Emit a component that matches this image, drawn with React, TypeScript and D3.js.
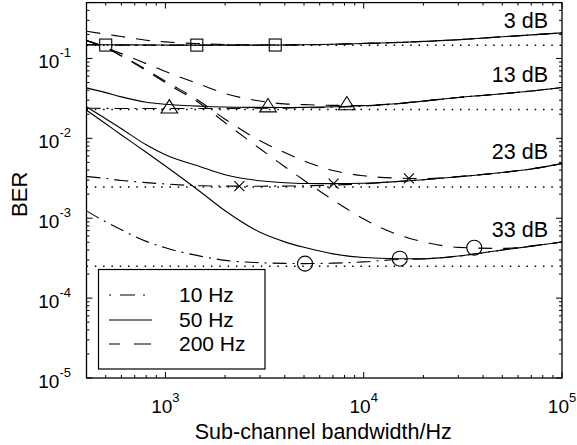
import React from 'react';
import * as d3 from 'd3';

// Sub-channel bandwidth grid (Hz)
const bandwidth = [400, 500, 600, 800, 1000, 1500, 2000, 3000, 4000, 5000, 7000, 10000, 15000, 20000, 30000, 50000, 70000, 100000];

const dopplerLabels = ['10 Hz', '50 Hz', '200 Hz'];
const snrLabels = ['3 dB', '13 dB', '23 dB', '33 dB'];

// 3 dB
const ber3dB_10Hz = [0.1475, 0.147, 0.1468, 0.1466, 0.1466, 0.1466, 0.1468, 0.147, 0.1475, 0.148, 0.150, 0.1535, 0.158, 0.163, 0.1715, 0.1865, 0.197, 0.209];
const ber3dB_50Hz = [0.149, 0.1485, 0.148, 0.1475, 0.147, 0.1468, 0.1468, 0.147, 0.1475, 0.1482, 0.1503, 0.154, 0.1586, 0.163, 0.1715, 0.1865, 0.197, 0.209];
const ber3dB_200Hz = [0.219, 0.201, 0.188, 0.169, 0.161, 0.153, 0.1494, 0.1475, 0.147, 0.1478, 0.1505, 0.1545, 0.159, 0.1635, 0.172, 0.187, 0.197, 0.209];
// 13 dB
const ber13dB_10Hz = [0.0238, 0.0237, 0.0236, 0.0236, 0.0236, 0.0236, 0.0237, 0.0238, 0.0239, 0.0241, 0.0245, 0.0253, 0.0271, 0.0292, 0.0325, 0.0361, 0.0391, 0.0433];
const ber13dB_50Hz = [0.0428, 0.0373, 0.0330, 0.02835, 0.02676, 0.02526, 0.02468, 0.0244, 0.0243, 0.0244, 0.0248, 0.0256, 0.0273, 0.0292, 0.0325, 0.0361, 0.0391, 0.0433];
const ber13dB_200Hz = [0.168, 0.1366, 0.1149, 0.0861, 0.0687, 0.0472, 0.0364, 0.0293, 0.0270, 0.02644, 0.02585, 0.0258, 0.0274, 0.0293, 0.0325, 0.0361, 0.0391, 0.0433];
// 23 dB
const ber23dB_10Hz = [3.33e-3, 3.144e-3, 2.969e-3, 2.793e-3, 2.683e-3, 2.547e-3, 2.525e-3, 2.518e-3, 2.525e-3, 2.547e-3, 2.60e-3, 2.70e-3, 2.89e-3, 3.03e-3, 3.30e-3, 3.73e-3, 4.135e-3, 4.83e-3];
const ber23dB_50Hz = [0.02481, 0.0176, 0.01319, 8.31e-3, 6.23e-3, 4.406e-3, 3.50e-3, 2.942e-3, 2.777e-3, 2.721e-3, 2.714e-3, 2.737e-3, 2.884e-3, 3.03e-3, 3.30e-3, 3.73e-3, 4.135e-3, 4.83e-3];
const ber23dB_200Hz = [0.1671, 0.1366, 0.1084, 0.0724, 0.0519, 0.02875, 0.01735, 9.33e-3, 6.64e-3, 5.21e-3, 3.95e-3, 3.40e-3, 3.17e-3, 3.13e-3, 3.33e-3, 3.74e-3, 4.14e-3, 4.83e-3];
// 33 dB
const ber33dB_10Hz = [1.238e-3, 9.01e-4, 7.15e-4, 5.13e-4, 4.26e-4, 3.35e-4, 2.97e-4, 2.777e-4, 2.72e-4, 2.70e-4, 2.74e-4, 2.84e-4, 3.05e-4, 3.10e-4, 3.36e-4, 3.995e-4, 4.46e-4, 5.03e-4];
const ber33dB_50Hz = [0.0225, 0.01524, 0.01103, 6.70e-3, 4.50e-3, 2.142e-3, 1.238e-3, 6.66e-4, 5.06e-4, 4.32e-4, 3.58e-4, 3.22e-4, 3.116e-4, 3.11e-4, 3.36e-4, 3.995e-4, 4.46e-4, 5.03e-4];
const ber33dB_200Hz = [0.1671, 0.1366, 0.1069, 0.0703, 0.0497, 0.02714, 0.01568, 7.41e-3, 4.41e-3, 2.985e-3, 1.691e-3, 9.77e-4, 6.18e-4, 5.06e-4, 4.32e-4, 4.19e-4, 4.51e-4, 5.03e-4];

// Optimal bandwidth markers per SNR (10 Hz, 50 Hz, 200 Hz)
const optBw3dB = [500, 1440, 3580];
const optBw13dB = [1047, 3290, 8220];
const optBw23dB = [2360, 7050, 16900];
const optBw33dB = [5060, 15200, 36100];

// Lower bound (dotted) per SNR
const boundBer = [0.146, 0.023, 0.00246, 0.00025];

const xTickValues = [1e3, 1e4, 1e5];
const xTickExp = ['3', '4', '5'];
const yTickValues = [1e-5, 1e-4, 1e-3, 1e-2, 1e-1];
const yTickExp = ['-5', '-4', '-3', '-2', '-1'];

const groups = [
  { series: [ber3dB_10Hz, ber3dB_50Hz, ber3dB_200Hz], opt: optBw3dB, marker: 'square' },
  { series: [ber13dB_10Hz, ber13dB_50Hz, ber13dB_200Hz], opt: optBw13dB, marker: 'triangle' },
  { series: [ber23dB_10Hz, ber23dB_50Hz, ber23dB_200Hz], opt: optBw23dB, marker: 'cross' },
  { series: [ber33dB_10Hz, ber33dB_50Hz, ber33dB_200Hz], opt: optBw33dB, marker: 'circle' },
];

const W = 577, H = 445;
const L = 86.5, R = 562, T = 2.6, B = 378;
const FONT = "'Liberation Sans', Arial, Helvetica, sans-serif";
const dashes = ['14 6 2 6', null, '14 11'];

function interpLog(series: number[], x: number) {
  const lx = Math.log10(x);
  for (let i = 0; i < bandwidth.length - 1; i++) {
    const a = Math.log10(bandwidth[i]), b = Math.log10(bandwidth[i + 1]);
    if (lx >= a && lx <= b) {
      const t = (lx - a) / (b - a);
      return Math.pow(10, Math.log10(series[i]) * (1 - t) + Math.log10(series[i + 1]) * t);
    }
  }
  return series[series.length - 1];
}

export default function App() {
  const x = d3.scaleLog().domain([400, 1e5]).range([L, R]);
  const y = d3.scaleLog().domain([1e-5, 0.5]).range([B, T]);
  const line = d3.line<number>()
    .x((_, i) => x(bandwidth[i]))
    .y(d => y(d))
    .curve(d3.curveMonotoneX);

  const xMinor: number[] = [];
  for (let e = 2; e <= 4; e++) for (let m = 2; m <= 9; m++) {
    const v = m * Math.pow(10, e);
    if (v >= 400 && v <= 1e5) xMinor.push(v);
  }
  const yMinor: number[] = [];
  for (let e = -5; e <= -1; e++) for (let m = 2; m <= 9; m++) {
    const v = m * Math.pow(10, e);
    if (v <= 0.5) yMinor.push(v);
  }

  const marker = (kind: string, cx: number, cy: number, key: string) => {
    const s = { fill: 'none', stroke: '#000', strokeWidth: 1.1 };
    if (kind === 'square') return <rect key={key} x={cx - 6} y={cy - 6} width={12} height={12} {...s} />;
    if (kind === 'triangle') return <path key={key} d={`M${cx},${cy - 8.9}L${cx + 8.3},${cy + 4.4}L${cx - 8.3},${cy + 4.4}Z`} {...s} />;
    if (kind === 'cross') return <path key={key} d={`M${cx - 5},${cy - 5}L${cx + 5},${cy + 5}M${cx - 5},${cy + 5}L${cx + 5},${cy - 5}`} {...s} />;
    return <circle key={key} cx={cx} cy={cy} r={7.5} {...s} />;
  };

  const legendY = [295, 320, 344];

  return (
    <svg width={W} height={H} style={{ position: 'absolute', left: 0, top: 0, background: '#fff' }} fontFamily={FONT}>
      <defs>
        <clipPath id="plot"><rect x={L} y={T} width={R - L} height={B - T} /></clipPath>
      </defs>
      <rect x={0} y={0} width={W} height={H} fill="#fff" />
      <g clipPath="url(#plot)">
        {boundBer.map((b, i) => (
          <line key={'b' + i} x1={L} x2={R} y1={y(b)} y2={y(b)} stroke="#000" strokeWidth={1.4} strokeDasharray="1.5 6.8" />
        ))}
        {groups.map((g, gi) => g.series.map((s, si) => (
          <path key={`c${gi}-${si}`} d={line(s) || ''} fill="none" stroke="#000" strokeWidth={1.1}
            strokeDasharray={dashes[si] || undefined} />
        )))}
        {groups.map((g, gi) => g.series.map((s, si) =>
          marker(g.marker, x(g.opt[si]), y(interpLog(s, g.opt[si])), `m${gi}-${si}`)
        ))}
      </g>

      {/* legend */}
      <rect x={98.5} y={269.5} width={166.5} height={99.5} fill="#fff" stroke="#000" strokeWidth={1.2} />
      {dopplerLabels.map((lab, i) => (
        <g key={'lg' + i}>
          <line x1={109} x2={152} y1={legendY[i]} y2={legendY[i]} stroke="#000" strokeWidth={1.1}
            strokeDasharray={i === 0 ? '2 9 15 8' : i === 2 ? '11 14 17 5' : undefined} />
          <text x={179} y={legendY[i]} dy="0.35em" fontSize={21}>{lab}</text>
        </g>
      ))}

      {/* axes box and ticks */}
      <rect x={L} y={T} width={R - L} height={B - T} fill="none" stroke="#000" strokeWidth={1.3} />
      {xTickValues.map(v => (
        <g key={'xt' + v}>
          <line x1={x(v)} x2={x(v)} y1={B} y2={B - 6} stroke="#000" />
          <line x1={x(v)} x2={x(v)} y1={T} y2={T + 6} stroke="#000" />
        </g>
      ))}
      {xMinor.map(v => (
        <g key={'xm' + v}>
          <line x1={x(v)} x2={x(v)} y1={B} y2={B - 3} stroke="#000" />
          <line x1={x(v)} x2={x(v)} y1={T} y2={T + 3} stroke="#000" />
        </g>
      ))}
      {yTickValues.map(v => (
        <g key={'yt' + v}>
          <line x1={L} x2={L + 6} y1={y(v)} y2={y(v)} stroke="#000" />
          <line x1={R} x2={R - 6} y1={y(v)} y2={y(v)} stroke="#000" />
        </g>
      ))}
      {yMinor.map(v => (
        <g key={'ym' + v}>
          <line x1={L} x2={L + 3} y1={y(v)} y2={y(v)} stroke="#000" />
          <line x1={R} x2={R - 3} y1={y(v)} y2={y(v)} stroke="#000" />
        </g>
      ))}

      {/* tick labels */}
      {xTickValues.map((v, i) => (
        <text key={'xl' + v} x={x(v)} y={412.5} textAnchor="middle" fontSize={19}>
          10<tspan dy={-11} fontSize={13}>{xTickExp[i]}</tspan>
        </text>
      ))}
      {yTickValues.map((v, i) => (
        <text key={'yl' + v} x={71} y={y(v) + 10} textAnchor="end" fontSize={19}>
          10<tspan dy={-11} fontSize={13}>{yTickExp[i]}</tspan>
        </text>
      ))}

      {/* SNR annotations */}
      {snrLabels.map((s, i) => (
        <text key={'snr' + i} x={548} y={[28.3, 81.7, 159.3, 236.7][i]} textAnchor="end" fontSize={21.5}>{s}</text>
      ))}

      {/* axis labels */}
      <text x={(L + R) / 2 - 1} y={439} textAnchor="middle" fontSize={21.5}>Sub-channel bandwidth/Hz</text>
      <text transform={`translate(27,${(T + B) / 2 + 4}) rotate(-90)`} textAnchor="middle" fontSize={22}>BER</text>
    </svg>
  );
}
